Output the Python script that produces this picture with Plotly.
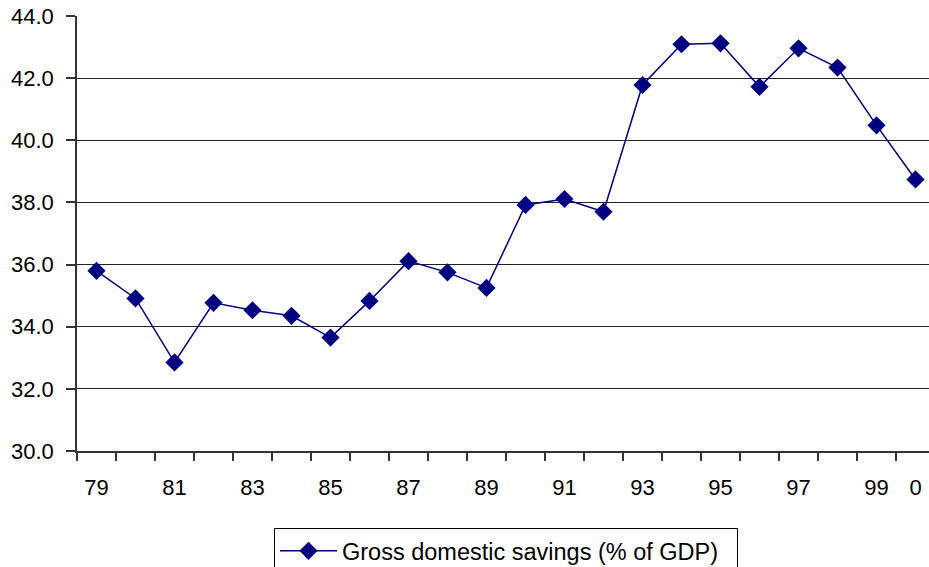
import plotly.graph_objects as go

years = ["79", "80", "81", "82", "83", "84", "85", "86", "87", "88", "89",
         "90", "91", "92", "93", "94", "95", "96", "97", "98", "99", "0"]
savings = [35.80, 34.91, 32.85, 34.77, 34.53, 34.35, 33.65, 34.83, 36.11, 35.75, 35.25,
           37.92, 38.11, 37.70, 41.78, 43.09, 43.12, 41.72, 42.96, 42.34, 40.48, 38.74]
label_idx = [0, 2, 4, 6, 8, 10, 12, 14, 16, 18, 20, 21]
y_ticks = [30, 32, 34, 36, 38, 40, 42, 44]

xs = list(range(len(years)))

fig = go.Figure()
fig.add_trace(go.Scatter(
    x=xs, y=savings, mode="lines+markers",
    name="Gross domestic savings (% of GDP)\u00a0\u00a0",
    line=dict(color="#000080", width=1.5),
    marker=dict(symbol="diamond", size=14, color="#000080"),
))

fig.update_layout(
    width=929, height=567,
    margin=dict(l=77, r=0, t=16, b=116),
    paper_bgcolor="white", plot_bgcolor="white",
    font=dict(family="Liberation Sans, Arial, sans-serif", size=22, color="black"),
    showlegend=True,
    legend=dict(
        xref="paper", x=0.5035, xanchor="center",
        yref="container", y=1 - 528 / 567, yanchor="top",
        bordercolor="black", borderwidth=1, bgcolor="white",
        font=dict(size=23.5), itemwidth=57,
    ),
)

fig.update_xaxes(
    range=[-0.5, 21.346],
    tickvals=label_idx, ticktext=[years[i] for i in label_idx],
    ticks="", showgrid=False, zeroline=False,
    showline=True, linecolor="#333333", linewidth=1.5,
    minor=dict(tickvals=[i - 0.5 for i in range(len(years) + 1)],
               ticks="outside", ticklen=8, tickcolor="#333333", tickwidth=1.5,
               showgrid=False),
    ticklabelstandoff=16,
)
fig.update_yaxes(
    range=[30, 44],
    tickvals=y_ticks, ticktext=[f"{v:.1f}" for v in y_ticks],
    ticks="outside", ticklen=9, tickcolor="#333333", tickwidth=1.5,
    showgrid=True, gridcolor="#222222", gridwidth=1,
    zeroline=False, showline=True, linecolor="#333333", linewidth=1.5,
    ticklabelstandoff=8,
)

fig.write_html("out.html")
